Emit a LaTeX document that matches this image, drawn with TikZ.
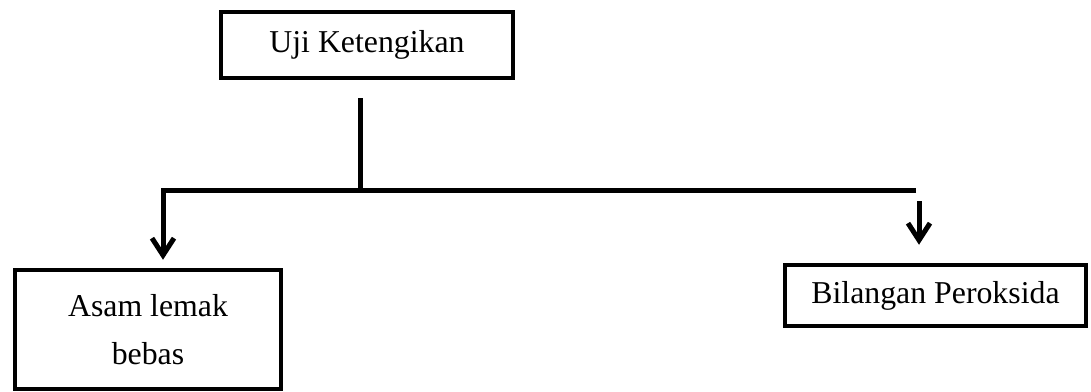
\documentclass[tikz,border=0pt]{standalone}
\usepackage{fontspec}
\setmainfont{Liberation Serif}
\usetikzlibrary{arrows.meta}
\begin{document}
\begin{tikzpicture}[x=1pt,y=-1pt,
  box/.style={draw, line width=4.5pt, inner sep=0pt, font=\fontsize{31.8}{48}\selectfont, align=center},
  conn/.style={line width=5pt},
  arr/.style={line width=5pt, -{Straight Barb[length=17pt,width=22pt]}}]
\useasboundingbox (0,0) rectangle (1091,391);
\node[box, minimum width=292pt, minimum height=66pt] (top) at (367,45) {Uji Ketengikan};
\node[box, minimum width=266pt, minimum height=119pt] (left) at (148,329.5) {Asam lemak\\bebas};
\node[box, minimum width=301pt, minimum height=61pt] (right) at (935.5,295.5) {Bilangan Peroksida};
\coordinate (vtop) at (360,98);
\coordinate (j) at (360,188);
\coordinate (hl) at (163,190);
\coordinate (hr) at (916,190);
\coordinate (ra) at (919,201);
\draw[conn] (vtop) -- (j);
\draw[arr] (hr) -- (hl) -- ([shift={(0,-8)}]hl |- left.north);
\draw[arr] (ra) -- ([shift={(0,-18)}]ra |- right.north);
\end{tikzpicture}
\end{document}
